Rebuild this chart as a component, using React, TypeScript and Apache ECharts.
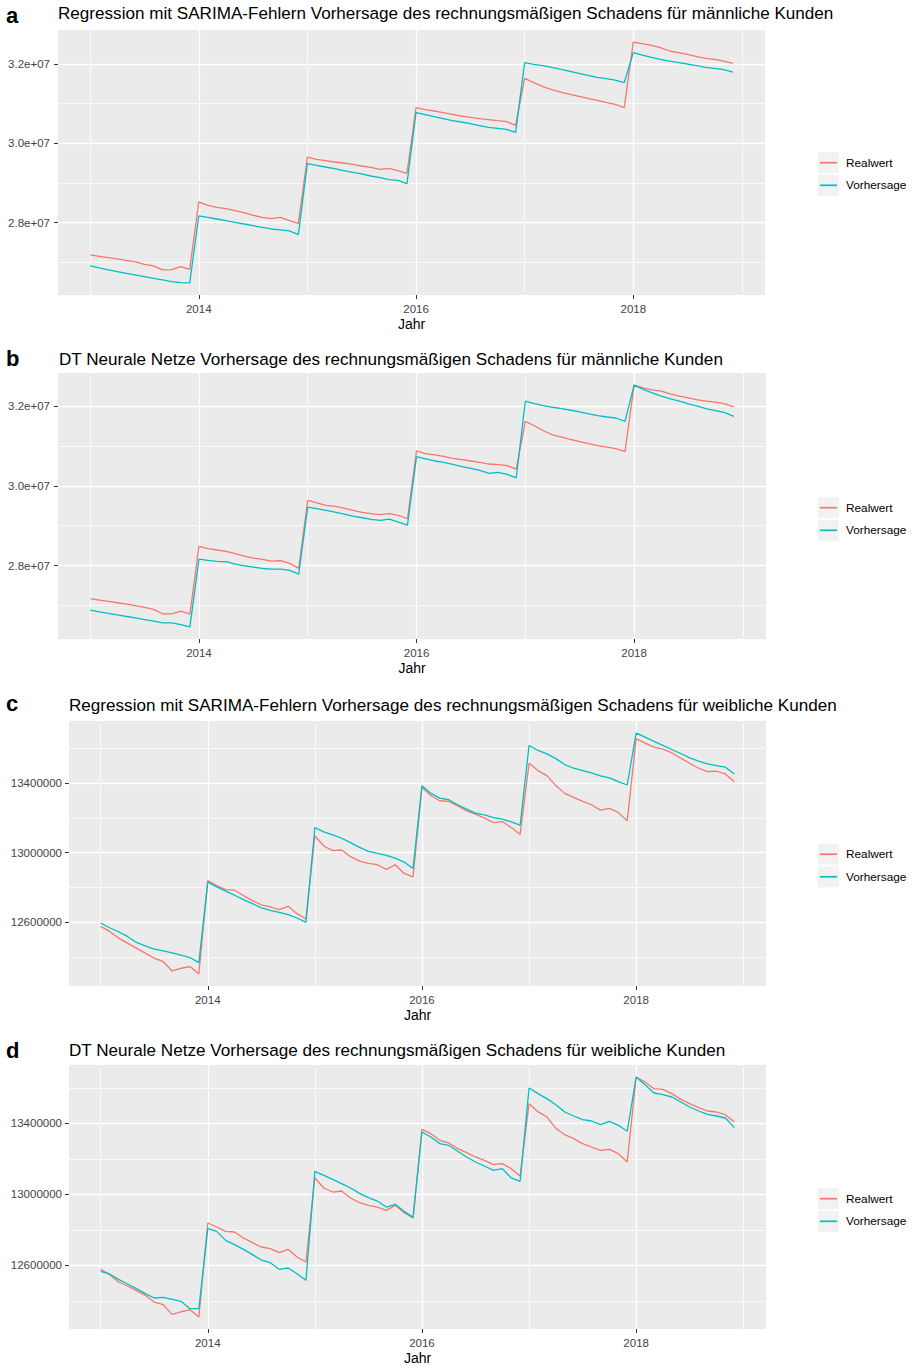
import React, { useEffect, useRef } from "react";
import * as echarts from "echarts";

// ---------- data ----------
const years = [2013, 2014, 2015, 2016, 2017, 2018];
const months = [1, 2, 3, 4, 5, 6, 7, 8, 9, 10, 11, 12];
const monthStamps = years.flatMap((y) => months.map((m) => y + (m - 1) / 12));

const seriesNames = ["Realwert", "Vorhersage"];
const xAxisTitle = "Jahr";

const panelTitles = [
  "Regression mit SARIMA-Fehlern Vorhersage des rechnungsmäßigen Schadens für männliche Kunden",
  "DT Neurale Netze Vorhersage des rechnungsmäßigen Schadens für männliche Kunden",
  "Regression mit SARIMA-Fehlern Vorhersage des rechnungsmäßigen Schadens für weibliche Kunden",
  "DT Neurale Netze Vorhersage des rechnungsmäßigen Schadens für weibliche Kunden",
];
const panelLetters = ["a", "b", "c", "d"];

const xMajorTicks = [2014, 2016, 2018];
const xMinorTicks = [2013, 2015, 2017, 2019];
const yMajorMale = [28000000, 30000000, 32000000];
const yMinorMale = [27000000, 29000000, 31000000];
const yMajorFemale = [12600000, 13000000, 13400000];
const yMinorFemale = [12400000, 12800000, 13200000, 13600000];

// Panel a: Regression mit SARIMA-Fehlern, männlich
const realA = [
  27185000, 27151000, 27118000, 27084000, 27050000, 27008000, 26950000, 26908000, 26807000, 26815000, 26891000, 26824000,
  28521000, 28437000, 28387000, 28353000, 28302000, 28252000, 28185000, 28134000, 28101000, 28134000, 28050000, 27983000,
  29655000, 29597000, 29563000, 29529000, 29504000, 29471000, 29428000, 29395000, 29344000, 29370000, 29311000, 29244000,
  30899000, 30849000, 30815000, 30773000, 30731000, 30689000, 30655000, 30622000, 30597000, 30571000, 30546000, 30454000,
  31638000, 31529000, 31428000, 31353000, 31294000, 31235000, 31185000, 31134000, 31084000, 31033000, 30983000, 30899000,
  32554000, 32512000, 32470000, 32412000, 32328000, 32286000, 32244000, 32185000, 32143000, 32117000, 32075000, 32017000,
];
const predA = [
  26908000, 26857000, 26807000, 26765000, 26723000, 26681000, 26639000, 26597000, 26555000, 26513000, 26487000, 26479000,
  28168000, 28134000, 28092000, 28050000, 28008000, 27966000, 27924000, 27882000, 27840000, 27815000, 27790000, 27698000,
  29487000, 29445000, 29403000, 29361000, 29311000, 29269000, 29227000, 29176000, 29134000, 29084000, 29067000, 28983000,
  30773000, 30723000, 30672000, 30622000, 30571000, 30538000, 30496000, 30445000, 30403000, 30378000, 30353000, 30277000,
  32033000, 31991000, 31958000, 31916000, 31865000, 31815000, 31765000, 31714000, 31664000, 31630000, 31596000, 31529000,
  32286000, 32227000, 32168000, 32117000, 32075000, 32033000, 32000000, 31958000, 31916000, 31891000, 31857000, 31798000,
];

// Panel b: DT Neurale Netze, männlich
const realB = [
  27170000, 27137000, 27103000, 27069000, 27036000, 26994000, 26952000, 26901000, 26792000, 26792000, 26859000, 26783000,
  28484000, 28425000, 28391000, 28358000, 28299000, 28240000, 28189000, 28156000, 28114000, 28122000, 28055000, 27937000,
  29638000, 29570000, 29511000, 29486000, 29444000, 29385000, 29335000, 29301000, 29276000, 29301000, 29259000, 29175000,
  30876000, 30808000, 30775000, 30741000, 30690000, 30657000, 30623000, 30589000, 30547000, 30530000, 30505000, 30421000,
  31617000, 31507000, 31381000, 31280000, 31221000, 31162000, 31111000, 31061000, 31010000, 30968000, 30935000, 30859000,
  32526000, 32459000, 32408000, 32375000, 32307000, 32248000, 32206000, 32156000, 32122000, 32097000, 32055000, 31979000,
];
const predB = [
  26884000, 26842000, 26800000, 26766000, 26724000, 26690000, 26648000, 26606000, 26564000, 26564000, 26522000, 26463000,
  28164000, 28130000, 28105000, 28097000, 28038000, 27996000, 27962000, 27928000, 27912000, 27912000, 27878000, 27785000,
  29469000, 29427000, 29385000, 29343000, 29293000, 29242000, 29200000, 29158000, 29133000, 29166000, 29090000, 29015000,
  30733000, 30674000, 30623000, 30589000, 30539000, 30480000, 30438000, 30387000, 30311000, 30337000, 30286000, 30202000,
  32122000, 32063000, 32013000, 31970000, 31937000, 31895000, 31853000, 31802000, 31760000, 31726000, 31701000, 31617000,
  32526000, 32417000, 32333000, 32248000, 32181000, 32122000, 32055000, 31996000, 31928000, 31886000, 31836000, 31743000,
];

// Panel c: Regression mit SARIMA-Fehlern, weiblich
const realC = [
  12576900, 12548100, 12509600, 12480700, 12451900, 12423100, 12394200, 12375000, 12321100, 12336500, 12346100, 12303800,
  12840400, 12811500, 12788400, 12784600, 12753800, 12725000, 12700000, 12688400, 12673100, 12692300, 12650000, 12619200,
  13096100, 13038400, 13011500, 13015400, 12976900, 12951900, 12938400, 12930800, 12903800, 12930800, 12880700, 12861500,
  13375000, 13326900, 13298000, 13294200, 13269100, 13240300, 13221000, 13197900, 13173000, 13178700, 13144100, 13105600,
  13513500, 13471200, 13442300, 13385000, 13340400, 13317300, 13294200, 13275000, 13244200, 13253800, 13230700, 13182600,
  13654000, 13629000, 13605900, 13594400, 13573200, 13542400, 13513600, 13484700, 13465500, 13467400, 13452000, 13407700,
];
const predC = [
  12596100, 12569200, 12546100, 12519200, 12484600, 12465400, 12446100, 12436500, 12425000, 12411500, 12398100, 12369200,
  12830700, 12803800, 12778800, 12755800, 12730700, 12707700, 12682700, 12669200, 12657700, 12644200, 12625000, 12600000,
  13144200, 13119200, 13101900, 13082700, 13057700, 13030800, 13007700, 12996100, 12984600, 12969200, 12946100, 12909600,
  13384600, 13340300, 13313400, 13303800, 13274900, 13249900, 13226800, 13217200, 13201800, 13192200, 13176800, 13157600,
  13615500, 13586600, 13567400, 13540000, 13505900, 13484700, 13471200, 13457800, 13440400, 13428900, 13407700, 13388500,
  13686700, 13663600, 13638600, 13615500, 13592400, 13569400, 13544300, 13525100, 13509700, 13500100, 13490500, 13452000,
];

// Panel d: DT Neurale Netze, weiblich
const realD = [
  12577500, 12547400, 12506100, 12483600, 12457300, 12431000, 12393400, 12378400, 12323900, 12337100, 12350200, 12308900,
  12838500, 12815900, 12791500, 12787800, 12754000, 12727700, 12703300, 12693900, 12671300, 12690100, 12646900, 12618800,
  13092000, 13035700, 13013100, 13018800, 12979300, 12953000, 12938000, 12928600, 12909800, 12938000, 12896700, 12866700,
  13366400, 13342000, 13304500, 13289400, 13257500, 13235000, 13210600, 13191800, 13167400, 13173000, 13144800, 13103500,
  13511000, 13466000, 13436000, 13372000, 13336300, 13313800, 13285600, 13266800, 13248100, 13253700, 13229300, 13182300,
  13661200, 13633000, 13595500, 13591700, 13567300, 13535400, 13511000, 13488400, 13469700, 13464000, 13449000, 13407700,
];
const predD = [
  12566200, 12551200, 12521100, 12494800, 12468500, 12440400, 12416000, 12419700, 12408400, 12397200, 12355900, 12355900,
  12806600, 12791500, 12740800, 12716400, 12690100, 12660100, 12630000, 12615000, 12577500, 12585000, 12553000, 12515500,
  13129600, 13107000, 13084500, 13060100, 13035700, 13005600, 12981200, 12962400, 12928600, 12943600, 12904200, 12870400,
  13351400, 13323300, 13285700, 13276300, 13242500, 13210600, 13182400, 13159900, 13135500, 13144800, 13092300, 13073500,
  13599300, 13567400, 13539200, 13505000, 13464000, 13441500, 13420800, 13413300, 13392700, 13411400, 13388900, 13355100,
  13661200, 13618000, 13571100, 13561700, 13548500, 13520400, 13492200, 13469700, 13450900, 13441500, 13430200, 13375800,
];

// ---------- layout / style ----------
const FONT = '"Liberation Sans", Arial, Helvetica, sans-serif';
const RED = "#F8766D";
const TEAL = "#00BFC4";
const PANEL_BG = "#EBEBEB";

const layouts = [
  { left: 58, top: 30, width: 707, height: 265, titleX: 58, titleY: 13.4, letterY: 15.3, legendY: 174, yMargin: 8 },
  { left: 58, top: 373, width: 708, height: 266, titleX: 59, titleY: 359.1, letterY: 358.6, legendY: 519, yMargin: 8 },
  { left: 69, top: 721, width: 697, height: 265, titleX: 69, titleY: 705.8, letterY: 703.3, legendY: 865.5, yMargin: 7 },
  { left: 69, top: 1065, width: 697, height: 265, titleX: 69, titleY: 1050.1, letterY: 1050.9, legendY: 1210, yMargin: 7 },
];

const panels = [
  { real: realA, pred: predA, major: yMajorMale, minor: yMinorMale, sci: true },
  { real: realB, pred: predB, major: yMajorMale, minor: yMinorMale, sci: true },
  { real: realC, pred: predC, major: yMajorFemale, minor: yMinorFemale, sci: false },
  { real: realD, pred: predD, major: yMajorFemale, minor: yMinorFemale, sci: false },
];

function expandRange(values: number[]) {
  const lo = Math.min(...values);
  const hi = Math.max(...values);
  const pad = (hi - lo) * 0.05;
  return { min: lo - pad, max: hi + pad };
}

function buildOption() {
  const xr = expandRange(monthStamps);
  const grids: any[] = [];
  const xAxes: any[] = [];
  const yAxes: any[] = [];
  const series: any[] = [];
  const graphics: any[] = [];

  panels.forEach((p, i) => {
    const L = layouts[i];
    const yr = expandRange([...p.real, ...p.pred]);
    grids.push({
      left: L.left,
      top: L.top,
      width: L.width,
      height: L.height,
      show: true,
      backgroundColor: PANEL_BG,
      borderWidth: 0,
      containLabel: false,
    });
    // major x axis
    xAxes.push({
      type: "value",
      gridIndex: i,
      min: xr.min,
      max: xr.max,
      axisLine: { show: false },
      axisTick: { show: true, length: 4, customValues: xMajorTicks, lineStyle: { color: "#333333", width: 1 } },
      axisLabel: {
        show: true,
        customValues: xMajorTicks,
        formatter: (v: number) => String(Math.round(v)),
        color: "#444444",
        fontSize: 11.5,
        fontFamily: FONT,
        margin: 8,
      },
      splitLine: { show: true, lineStyle: { color: "#FFFFFF", width: 1.3 } },
      name: xAxisTitle,
      nameLocation: "middle",
      nameGap: 29,
      nameTextStyle: { color: "#000000", fontSize: 14, fontFamily: FONT, verticalAlign: "middle" },
    });
    // minor x axis (grid lines only)
    xAxes.push({
      type: "value",
      gridIndex: i,
      position: "bottom",
      min: xr.min,
      max: xr.max,
      axisLine: { show: false },
      axisTick: { show: true, length: 0, customValues: xMinorTicks, lineStyle: { opacity: 0 } },
      axisLabel: { show: false, customValues: xMinorTicks },
      splitLine: { show: true, lineStyle: { color: "#FFFFFF", width: 0.75 } },
    });
    yAxes.push({
      type: "value",
      gridIndex: i,
      min: yr.min,
      max: yr.max,
      axisLine: { show: false },
      axisTick: { show: true, length: 4, customValues: p.major, lineStyle: { color: "#333333", width: 1 } },
      axisLabel: {
        show: true,
        customValues: p.major,
        formatter: (v: number) => (p.sci ? (v / 1e7).toFixed(1) + "e+07" : String(Math.round(v))),
        color: "#444444",
        fontSize: 11.5,
        fontFamily: FONT,
        margin: L.yMargin,
      },
      splitLine: { show: true, lineStyle: { color: "#FFFFFF", width: 1.3 } },
    });
    yAxes.push({
      type: "value",
      gridIndex: i,
      position: "left",
      min: yr.min,
      max: yr.max,
      axisLine: { show: false },
      axisTick: { show: true, length: 0, customValues: p.minor, lineStyle: { opacity: 0 } },
      axisLabel: { show: false, customValues: p.minor },
      splitLine: { show: true, lineStyle: { color: "#FFFFFF", width: 0.75 } },
    });

    const vals = [p.real, p.pred];
    [RED, TEAL].forEach((color, k) => {
      series.push({
        name: seriesNames[k],
        type: "line",
        xAxisIndex: 2 * i,
        yAxisIndex: 2 * i,
        data: monthStamps.map((t, j) => [t, vals[k][j]]),
        showSymbol: false,
        symbol: "none",
        lineStyle: { color, width: 1.3 },
        itemStyle: { color },
        z: 3 + k,
        silent: true,
      });
    });

    // title and panel letter
    graphics.push({
      type: "text",
      x: L.titleX,
      y: L.titleY,
      style: { text: panelTitles[i], fill: "#000000", fontSize: 17.1, fontFamily: FONT, verticalAlign: "middle", align: "left" },
    });
    graphics.push({
      type: "text",
      x: 6,
      y: L.letterY,
      style: { text: panelLetters[i], fill: "#000000", fontSize: 22, fontWeight: "bold", fontFamily: FONT, verticalAlign: "middle", align: "left" },
    });

    // legend
    const cy = L.legendY;
    const rows = [cy - 11.3, cy + 11.3];
    rows.forEach((ry, k) => {
      graphics.push({
        type: "rect",
        shape: { x: 818, y: ry - 10.5, width: 21, height: 21 },
        style: { fill: "#F2F2F2" },
      });
      graphics.push({
        type: "line",
        shape: { x1: 820, y1: ry, x2: 837, y2: ry },
        style: { stroke: k === 0 ? RED : TEAL, lineWidth: 1.7 },
      });
      graphics.push({
        type: "text",
        x: 846,
        y: ry,
        style: { text: seriesNames[k], fill: "#000000", fontSize: 11.8, fontFamily: FONT, verticalAlign: "middle", align: "left" },
      });
    });
  });

  return {
    animation: false,
    backgroundColor: "#FFFFFF",
    textStyle: { fontFamily: FONT },
    grid: grids,
    xAxis: xAxes,
    yAxis: yAxes,
    series,
    graphic: graphics,
  };
}

export default function App() {
  const ref = useRef<HTMLDivElement>(null);
  useEffect(() => {
    if (!ref.current) return;
    const chart = echarts.init(ref.current, undefined, { renderer: "svg" });
    chart.setOption(buildOption() as any);
    return () => chart.dispose();
  }, []);
  return (
    <div
      ref={ref}
      style={{ position: "absolute", left: 0, top: 0, width: 915, height: 1366, background: "#FFFFFF" }}
    />
  );
}
